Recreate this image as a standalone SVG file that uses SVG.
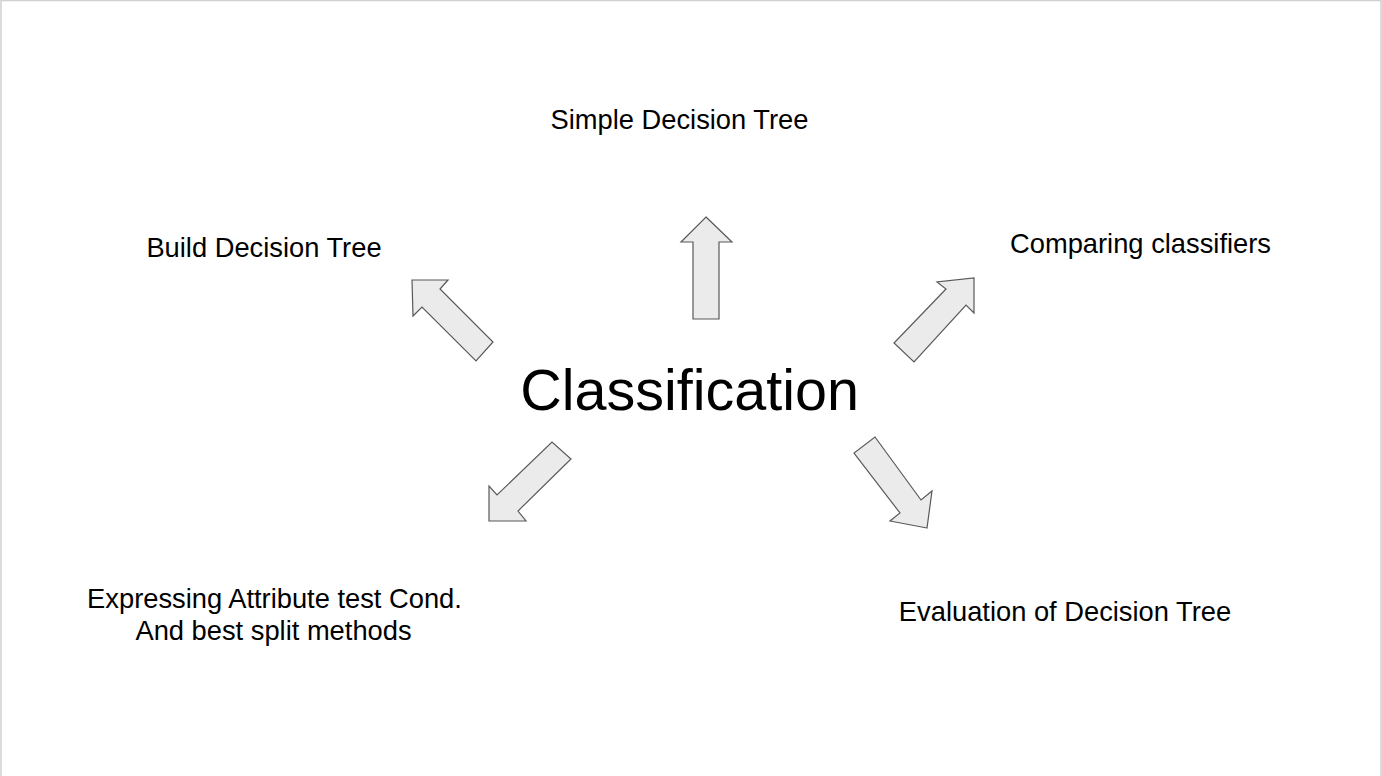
<svg xmlns="http://www.w3.org/2000/svg" width="1382" height="776" viewBox="0 0 1382 776">
<style>
.t{font-family:"Liberation Sans",Arial,sans-serif;font-size:27.3px;fill:#000;text-anchor:middle}
.big{font-size:57.5px}
.arr{fill:#ebebeb;stroke:#595959;stroke-width:1.2;stroke-linejoin:miter}
</style>
<rect x="0" y="0" width="1382" height="776" fill="#fff"/>
<rect x="1" y="0.5" width="1380" height="780" fill="none" stroke="#d0d0d0" stroke-width="1.5"/>
<g id="center"><text class="t big" x="689.5" y="410">Classification</text></g>
<g id="simple"><text class="t" x="679.5" y="129">Simple Decision Tree</text></g>
<g id="build"><text class="t" x="264" y="257">Build Decision Tree</text></g>
<g id="comparing"><text class="t" x="1140.5" y="253">Comparing classifiers</text></g>
<g id="evaluation"><text class="t" x="1065" y="621">Evaluation of Decision Tree</text></g>
<g id="expressing"><text class="t" x="274.5" y="608">Expressing Attribute test Cond.</text><text class="t" x="273.5" y="640">And best split methods</text></g>
<g id="connectors">
<polygon class="arr" points="706,217 732,242 719,242 719,319 693,319 693,242 681,242"/>
<polygon class="arr" points="412,280 448,280 440,289 493,342 476,361 422,307 413,316"/>
<polygon class="arr" points="974,278 974,313 966,305 914,362 894,343 946,289 937,282"/>
<polygon class="arr" points="489,521 489,486 497,495 552,442 571,459 518,511 526,521"/>
<polygon class="arr" points="927,528 890,521 900,513 854,453 875,437 921,500 932,491"/>
</g>
</svg>
